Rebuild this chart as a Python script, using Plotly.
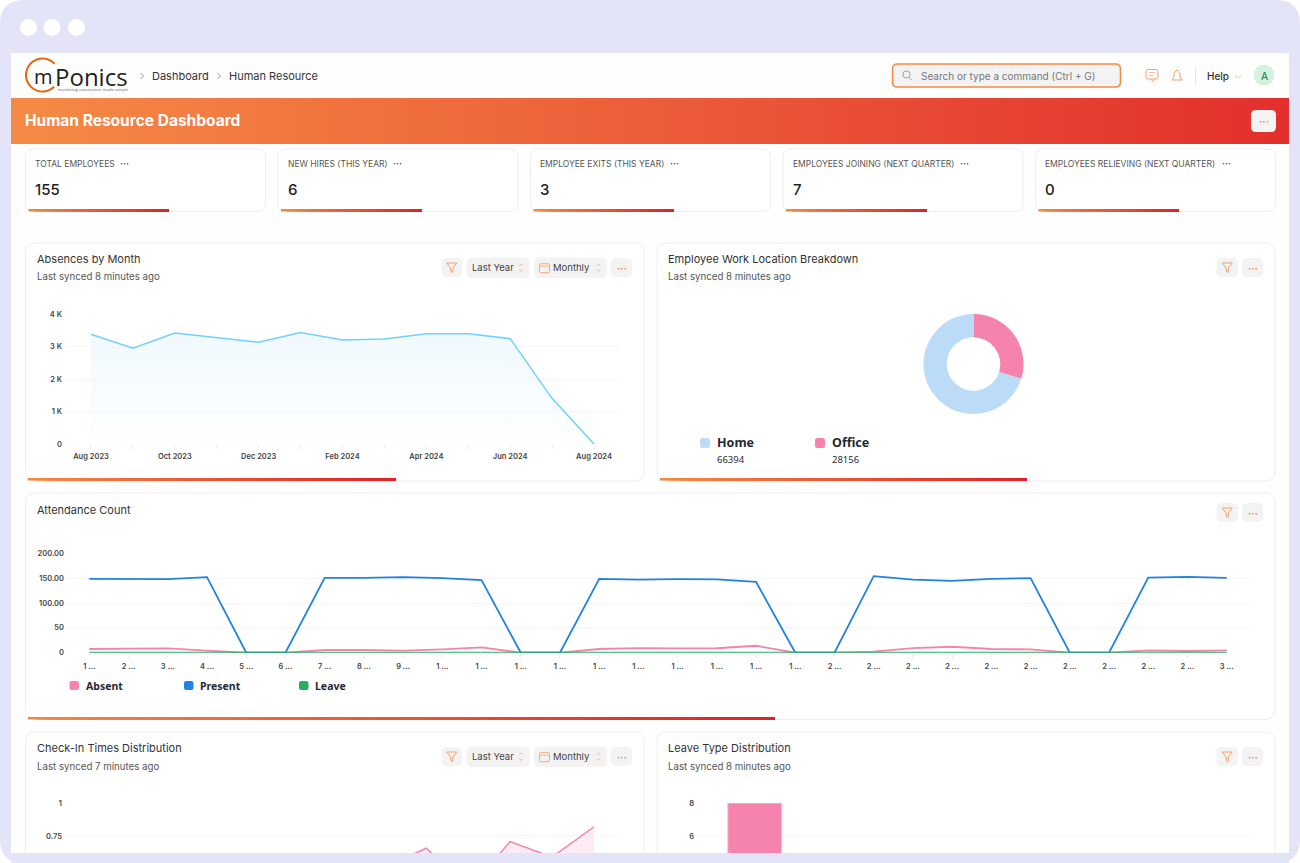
import math
import plotly.graph_objects as go

W = 1300
H = 863

# absences by month
months = ["Aug 2023", "Sep 2023", "Oct 2023", "Nov 2023", "Dec 2023", "Jan 2024", "Feb 2024",
          "Mar 2024", "Apr 2024", "May 2024", "Jun 2024", "Jul 2024", "Aug 2024"]
absences = [3385, 2954, 3425, 3272, 3138, 3436, 3210, 3241, 3405, 3405, 3251, 1415, 10]
month_ticktext = ["Aug 2023", "", "Oct 2023", "", "Dec 2023", "", "Feb 2024",
                  "", "Apr 2024", "", "Jun 2024", "", "Aug 2024"]

# work location
location_labels = ["Office", "Home"]
location_values = [28156, 66394]

# attendance count
days = list(range(1, 31))
day_ticktext = ["1 ...", "2 ...", "3 ...", "4 ...", "5 ...", "6 ...", "7 ...", "8 ...", "9 ...", "1 ...",
                "1 ...", "1 ...", "1 ...", "1 ...", "1 ...", "1 ...", "1 ...", "1 ...", "1 ...", "2 ...",
                "2 ...", "2 ...", "2 ...", "2 ...", "2 ...", "2 ...", "2 ...", "2 ...", "2 ...", "3 ..."]
present = [148.6, 148.6, 148, 152, 0, 0, 150.6, 150.6, 152, 150, 146, 0, 0, 148.6, 147,
           148, 147.5, 142.5, 0, 0, 154, 147, 144.6, 148.6, 150, 0, 0, 151, 152.6, 150.6]
absent = [7.4, 7.4, 8.7, 4, 0, 0, 5.4, 5.4, 4, 6.7, 10.8, 0, 0, 7.4, 9.4,
          8.7, 9, 14, 0, 0, 2, 9.4, 12, 7.4, 6.7, 0, 0, 4.7, 3.4, 4.7]
leave = [0] * 30

# check-in times, only the last months show above the fold
checkin_months = ["Mar 2024", "Apr 2024", "May 2024", "Jun 2024", "Jul 2024", "Aug 2024"]
checkin_values = [0.516, 0.657, 0.34, 0.707, 0.59, 0.82]

# leave type
leave_type_x = [0]
leave_type_values = [8]

# kpi cards
kpi_titles = ["TOTAL EMPLOYEES", "NEW HIRES (THIS YEAR)", "EMPLOYEE EXITS (THIS YEAR)",
              "EMPLOYEES JOINING (NEXT QUARTER)", "EMPLOYEES RELIEVING (NEXT QUARTER)"]
kpi_values = ["155", "6", "3", "7", "0"]

FONT = "Inter"
ORANGE = "#F58A45"
PINK = "#F683AE"
BLUE = "#2183DF"
GREEN = "#27AE60"
SKY = "#BBDBF6"
GRID = "#F4F5F7"
LAVENDER = "#E3E4F7"

shapes = []
annotations = []


def pt(x, y):
    return f"{x / W:.5f},{1 - y / H:.5f}"


def round_rect(x0, y0, x1, y1, r, fill, line=None, width=1, layer="below"):
    p = ("M " + pt(x0 + r, y0) + " L " + pt(x1 - r, y0) + " Q " + pt(x1, y0) + " " + pt(x1, y0 + r)
         + " L " + pt(x1, y1 - r) + " Q " + pt(x1, y1) + " " + pt(x1 - r, y1)
         + " L " + pt(x0 + r, y1) + " Q " + pt(x0, y1) + " " + pt(x0, y1 - r)
         + " L " + pt(x0, y0 + r) + " Q " + pt(x0, y0) + " " + pt(x0 + r, y0) + " Z")
    shapes.append(dict(type="path", path=p, xref="paper", yref="paper", fillcolor=fill, layer=layer,
                       line=dict(color=line if line else "rgba(0,0,0,0)", width=width if line else 0)))


def poly(points, color, width=1, fill=None, close=False):
    p = "M " + " L ".join(pt(x, y) for x, y in points)
    if close:
        p += " Z"
    shapes.append(dict(type="path", path=p, xref="paper", yref="paper", layer="below",
                       fillcolor=fill if fill else "rgba(0,0,0,0)", line=dict(color=color, width=width)))


def circle(cx, cy, r, fill, line=None, width=1):
    shapes.append(dict(type="circle", xref="paper", yref="paper", layer="below",
                       x0=(cx - r) / W, x1=(cx + r) / W, y0=1 - (cy + r) / H, y1=1 - (cy - r) / H,
                       fillcolor=fill, line=dict(color=line if line else "rgba(0,0,0,0)", width=width if line else 0)))


def rect(x0, y0, x1, y1, fill):
    shapes.append(dict(type="rect", xref="paper", yref="paper", layer="below", fillcolor=fill,
                       x0=x0 / W, x1=x1 / W, y0=1 - y1 / H, y1=1 - y0 / H, line=dict(width=0)))


def gradient(x0, y0, x1, y1, c0, c1, step):
    # every strip runs to the right end, the next one paints over it, so no seams
    n = int((x1 - x0) / step) + 1
    for i in range(n):
        t = i / max(n - 1, 1)
        col = "rgb(%d,%d,%d)" % tuple(round(a + (b - a) * t) for a, b in zip(c0, c1))
        rect(x0 + i * step, y0, x1, y1, col)


def label(x, y, text, size, color="#333333", anchor="left", weight=400, family=FONT):
    if anchor == "left":
        x = x - 1
    annotations.append(dict(x=x / W, y=1 - y / H, xref="paper", yref="paper", text=text, showarrow=False,
                            xanchor=anchor, yanchor="middle", borderpad=0,
                            font=dict(family=family, size=size, color=color, weight=weight)))


def chevron_right(x, y, color="#777777"):
    poly([(x - 1.5, y - 3), (x + 1.5, y), (x - 1.5, y + 3)], color, 0.8)


def updown(x, y):
    poly([(x - 1.8, y - 1.8), (x, y - 3.6), (x + 1.8, y - 1.8)], "#F5A878", 0.8)
    poly([(x - 1.8, y + 1.8), (x, y + 3.6), (x + 1.8, y + 1.8)], "#F5A878", 0.8)


def filter_button(x0, y0, x1, y1):
    round_rect(x0, y0, x1, y1, 5, "#F3F3F3")
    cx = (x0 + x1) / 2
    cy = (y0 + y1) / 2
    poly([(cx - 5, cy - 4.5), (cx + 5, cy - 4.5), (cx + 1.2, cy + 0.5), (cx + 0.8, cy + 5),
          (cx - 0.8, cy + 4), (cx - 1.2, cy + 0.5)], "#F5A070", 1, close=True)


def dots_button(x0, y0, x1, y1):
    round_rect(x0, y0, x1, y1, 5, "#F3F3F3")
    label((x0 + x1) / 2, (y0 + y1) / 2, "···", 10, ORANGE, anchor="center", weight=700)


def selectors(y0, y1):
    cy = (y0 + y1) / 2
    round_rect(467, y0, 529.5, y1, 5, "#F3F3F3")
    label(471.5, cy, "Last Year", 9.5, "#444444")
    updown(521, cy)
    round_rect(534, y0, 607, y1, 5, "#F3F3F3")
    round_rect(539.5, cy - 4, 549.5, cy + 5, 1.5, "rgba(0,0,0,0)", "#F5A878", 1)
    poly([(539.5, cy - 1.5), (549.5, cy - 1.5)], "#F5A878", 0.8)
    label(553, cy, "Monthly", 9.5, "#444444")
    updown(598.5, cy)


# outer window
round_rect(0, 0, W, H, 24, LAVENDER)
circle(28.5, 27.5, 8.5, "#FFFFFF")
circle(52, 27.5, 8.5, "#FFFFFF")
circle(76.5, 27.5, 8.5, "#FFFFFF")
rect(11, 53, 1289, 853, "#FEFEFE")

# logo
ring = [(42.5 + 16.5 * math.cos(math.radians(a)), 75 + 16.5 * math.sin(math.radians(a))) for a in range(45, 320, 8)]
poly(ring, "#E8650F", 2)
label(34, 76, "m", 20, "#222222", family="Open Sans")
label(55, 77, "Ponics", 24, "#222222", family="Open Sans")
label(58, 89.5, "marketing automation made simple", 4.2, "#666666", family="Open Sans")

# top bar
chevron_right(142, 76)
label(152, 76, "Dashboard", 11, "#333333")
chevron_right(219, 76)
label(229, 76, "Human Resource", 11, "#333333")
round_rect(892.5, 64, 1120.5, 87, 5, "#F3F3F3", ORANGE, 1.5)
circle(906.5, 74.5, 3.6, "rgba(0,0,0,0)", "#888888", 0.8)
poly([(909, 77.5), (911.5, 80)], "#888888", 0.8)
label(921, 75.5, "Search or type a command (Ctrl + G)", 10, "#777777")
round_rect(1146, 69.5, 1158, 79, 2, "rgba(0,0,0,0)", "#F5A070", 1)
poly([(1149, 72.5), (1155, 72.5)], "#F5A070", 0.7)
poly([(1149, 75.5), (1153, 75.5)], "#F5A070", 0.7)
poly([(1151, 79), (1153, 82), (1155, 79)], "#F5A070", 0.8)
poly([(1172, 80), (1174, 77), (1174, 73), (1177, 70), (1180, 73), (1180, 77), (1182, 80), (1172, 80)], "#F5A070", 1)
poly([(1195.5, 66), (1195.5, 85)], "#E6E6E6", 1)
label(1207, 76, "Help", 10, "#333333", weight=500)
poly([(1235, 75), (1238, 78), (1241, 75)], "#F5B48C", 0.8)
circle(1264, 75, 10.5, "#D7F0E1")
label(1264, 75.5, "A", 10, "#1E8E5A", anchor="center", weight=500)

# banner
gradient(11, 98, 1289, 144, (245, 138, 69), (227, 47, 45), 8)
label(25, 120.5, "Human Resource Dashboard", 15.5, "#FFFFFF", weight=700)
round_rect(1251, 110, 1276, 132, 5, "#F3F3F3")
label(1263.5, 121, "···", 10, ORANGE, anchor="center", weight=700)

# kpi cards
kpi_left = [25.5, 278, 530.5, 783, 1035.5]
kpi_dots = [124.5, 397, 674.5, 964, 1226]
for i in range(5):
    x = kpi_left[i]
    round_rect(x, 149, x + 240, 211.5, 8, "#FFFFFF", "#EEEEF0", 1)
    gradient(x + 3, 209, x + 143.5, 211.5, (245, 135, 63), (228, 30, 38), 6)
    label(x + 9.5, 163.5, kpi_titles[i], 8.5, "#555555")
    label(kpi_dots[i], 163, "···", 9, "#555555", anchor="center", weight=700)
    label(x + 9.5, 189.5, kpi_values[i], 15, "#222222", weight=500)

# cards
round_rect(25.5, 243, 644, 481, 10, "#FFFFFF", "#EEEEF0", 1)
gradient(28, 478, 396, 480.5, (245, 135, 63), (228, 30, 38), 7)
round_rect(657, 243, 1275, 481, 10, "#FFFFFF", "#EEEEF0", 1)
gradient(660, 478, 1027, 480.5, (245, 135, 63), (228, 30, 38), 7)
round_rect(25.5, 493, 1275, 719.5, 10, "#FFFFFF", "#EEEEF0", 1)
gradient(28, 717, 775, 719.5, (245, 135, 63), (228, 30, 38), 7)
round_rect(25.5, 732, 644, 880, 10, "#FFFFFF", "#EEEEF0", 1)
round_rect(657, 732, 1275, 880, 10, "#FFFFFF", "#EEEEF0", 1)
rect(11, 853, 1289, 863, LAVENDER)

label(37, 259, "Absences by Month", 11, "#333333")
label(37, 277, "Last synced 8 minutes ago", 9.7, "#555555")
filter_button(441.5, 258, 462, 277)
selectors(257.5, 278)
dots_button(611, 258, 632, 277)

label(668, 259, "Employee Work Location Breakdown", 11, "#333333")
label(668, 277, "Last synced 8 minutes ago", 9.7, "#555555")
filter_button(1216.5, 258, 1238, 277)
dots_button(1242, 258, 1263, 277)

label(37, 510, "Attendance Count", 11, "#333333")
filter_button(1216.5, 503, 1238, 522)
dots_button(1242, 503, 1263, 522)

label(37, 748, "Check-In Times Distribution", 11, "#333333")
label(37, 766, "Last synced 7 minutes ago", 9.7, "#555555")
filter_button(441.5, 747, 462, 766)
selectors(746.5, 767)
dots_button(611, 747, 632, 766)

label(668, 748, "Leave Type Distribution", 11, "#333333")
label(668, 766, "Last synced 8 minutes ago", 9.7, "#555555")
filter_button(1216.5, 747, 1238, 766)
dots_button(1242, 747, 1263, 766)

# legends
LEGEND_FONT = "Noto Sans"
round_rect(700, 438, 710, 448, 2.5, SKY)
label(717.5, 442.5, location_labels[1], 12.5, "#1F2933", weight=700, family=LEGEND_FONT)
label(717.5, 459, str(location_values[1]), 9.5, "#1F2933", family=LEGEND_FONT)
round_rect(815, 438, 825, 448, 2.5, PINK)
label(832, 442.5, location_labels[0], 12.5, "#1F2933", weight=700, family=LEGEND_FONT)
label(832, 459, str(location_values[0]), 9.5, "#1F2933", family=LEGEND_FONT)

round_rect(69.5, 681, 79, 690, 2.5, PINK)
label(86, 685.5, "Absent", 10.5, "#1F2933", weight=700, family=LEGEND_FONT)
round_rect(184, 681, 193.5, 690, 2.5, BLUE)
label(200, 685.5, "Present", 10.5, "#1F2933", weight=700, family=LEGEND_FONT)
round_rect(299, 681, 308.5, 690, 2.5, GREEN)
label(315, 685.5, "Leave", 10.5, "#1F2933", weight=700, family=LEGEND_FONT)

fig = go.Figure()

fig.add_trace(go.Scatter(x=months, y=absences, mode="lines", xaxis="x", yaxis="y",
                         line=dict(color="#70D0FF", width=1.5), fill="tozeroy",
                         fillgradient=dict(type="vertical",
                                           colorscale=[[0, "rgba(240,249,254,0.1)"], [1, "rgba(240,249,254,1)"]])))

fig.add_trace(go.Scatter(x=days, y=absent, mode="lines", xaxis="x2", yaxis="y2", cliponaxis=False,
                         line=dict(color=PINK, width=1.8)))
fig.add_trace(go.Scatter(x=days, y=present, mode="lines", xaxis="x2", yaxis="y2", cliponaxis=False,
                         line=dict(color=BLUE, width=1.8)))
fig.add_trace(go.Scatter(x=days, y=leave, mode="lines", xaxis="x2", yaxis="y2", cliponaxis=False,
                         line=dict(color=GREEN, width=1.8)))

fig.add_trace(go.Scatter(x=checkin_months, y=checkin_values, mode="lines", xaxis="x3", yaxis="y3",
                         line=dict(color=PINK, width=1.5), fill="tozeroy", fillcolor="#FDECF3"))

fig.add_trace(go.Bar(x=leave_type_x, y=leave_type_values, xaxis="x4", yaxis="y4", width=1,
                     marker=dict(color=PINK, line=dict(color="#FBC5DA", width=1))))

fig.add_trace(go.Pie(labels=location_labels, values=location_values, hole=0.535, sort=False,
                     direction="clockwise", rotation=0, textinfo="none",
                     marker=dict(colors=[PINK, SKY], line=dict(width=0)),
                     domain=dict(x=[923.5 / W, 1023.5 / W], y=[1 - 414 / H, 1 - 314 / H])))

tick_font = dict(family=FONT, size=7.5, color="#444444", weight=600)


def y_axis(x_id, top, bottom, rng, tickvals, ticktext):
    return dict(domain=[1 - bottom / H, 1 - top / H], range=rng, anchor=x_id, tickmode="array",
                tickvals=tickvals, ticktext=ticktext, tickfont=tick_font, gridcolor=GRID, gridwidth=1,
                showline=False, zeroline=False, ticks="", fixedrange=True, automargin=False,
                ticklabelstandoff=2)


def x_axis(left, right, y_id, rng, **kw):
    return dict(domain=[left / W, right / W], range=rng, anchor=y_id, tickfont=tick_font, showgrid=False,
                showline=False, zeroline=False, fixedrange=True, tickangle=0, automargin=False, **kw)


fig.update_layout(
    width=W,
    height=H,
    autosize=False,
    margin=dict(l=0, r=0, t=0, b=0),
    paper_bgcolor="#FFFFFF",
    plot_bgcolor="rgba(0,0,0,0)",
    showlegend=False,
    shapes=shapes,
    annotations=annotations,
    xaxis=x_axis(65, 620, "y", [-0.62, 12.62], type="category", categoryorder="array", categoryarray=months,
                 tickmode="array", tickvals=months, ticktext=month_ticktext, ticklabelstandoff=1,
                 ticks="outside", ticklen=4, tickcolor="#EDEDED", tickwidth=1),
    yaxis=y_axis("x", 314.3, 444.3, [0, 4000], [0, 1000, 2000, 3000, 4000], ["0", "1 K", "2 K", "3 K", "4 K"]),
    xaxis2=x_axis(67, 1251, "y2", [1 - 0.57, 30 + 0.62], tickmode="array", tickvals=days, ticktext=day_ticktext,
                  ticklabelstandoff=2, ticks="outside", ticklen=4, tickcolor="#EDEDED", tickwidth=1),
    yaxis2=y_axis("x2", 553.3, 652.7, [0, 200], [0, 50, 100, 150, 200], ["0", "50", "100.00", "150.00", "200.00"]),
    xaxis3=x_axis(65, 620, "y3", [-0.62, 12.62], type="category", categoryorder="array", categoryarray=months,
                  showticklabels=False),
    yaxis3=y_axis("x3", 803, 853, [0.621, 1], [0.75, 1], ["0.75", "1"]),
    xaxis4=x_axis(697, 1251, "y4", [-1.07, 9.2], showticklabels=False),
    yaxis4=y_axis("x4", 803, 853, [4.97, 8], [6, 8], ["6", "8"]),
)

fig.write_html("out.html", config=dict(displayModeBar=False),
               post_script="document.body.style.margin='0';document.body.style.overflow='hidden';")
